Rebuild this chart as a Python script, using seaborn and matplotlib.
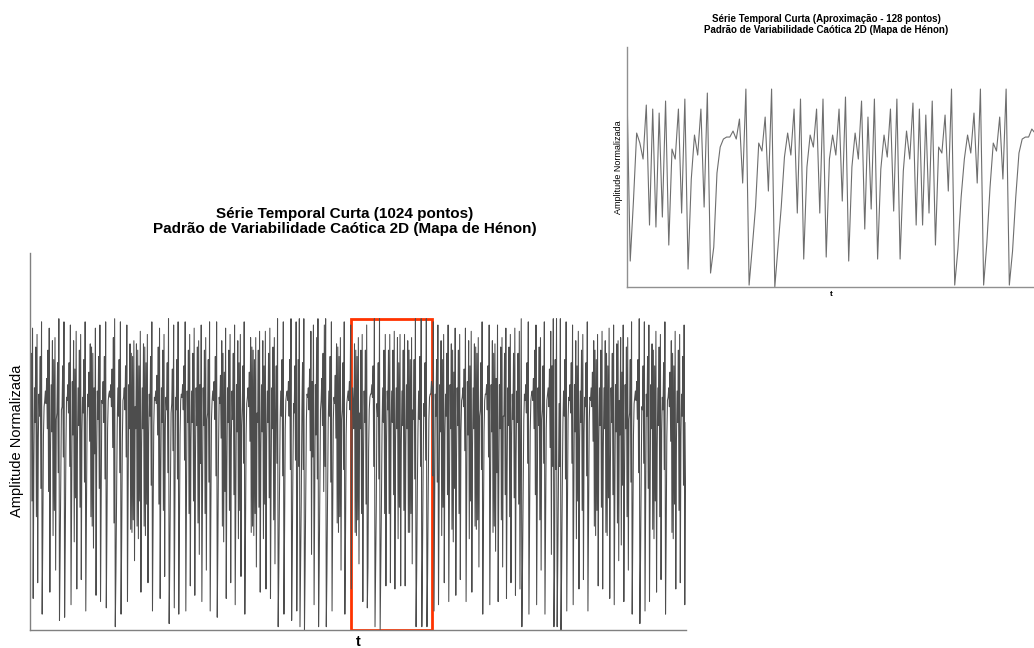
import numpy as np
import pandas as pd
import seaborn as sns
import matplotlib.pyplot as plt
from matplotlib.patches import Rectangle

# Amplitude normalizada (em %): série de 1024 pontos
serie_a = [72, 68, 88, 41, 96, 10, 52, 77, 66, 90, 36, 94, 15, 61, 75, 68, 87, 45, 98, 5,
           30, 62, 71, 73, 76, 72, 80, 64, 89, 44, 96, 12, 57, 78, 63, 92, 30, 86, 38, 93,
           19, 67, 69, 85, 50, 99, 3, 24, 49, 70, 71, 84, 55, 98, 4, 27, 58, 74, 73, 78,
           69, 85, 52, 97, 8, 44, 79, 62, 92, 28, 83, 42, 95, 13, 60, 77, 65, 89, 39, 94,
           16, 63, 74, 69, 86, 47, 98, 6, 36, 66, 75, 71, 82, 60, 91, 36, 90, 33, 88, 26,
           77, 56, 96, 11, 55, 76, 67, 87, 45, 97, 9, 41, 73, 72, 79, 66, 87, 48, 98, 7,
           33, 64, 73, 75, 76, 74, 78, 71, 83, 58, 93, 34, 99, 1, 18, 43, 65, 77, 68, 86,
           50, 98, 5, 29, 60, 73, 74, 77, 70, 84, 55, 97, 9, 45, 78, 64, 91, 32, 88, 31,
           87, 35, 92, 22, 71, 64, 91, 33, 89, 29, 84, 41, 95, 12, 58, 77, 64, 91, 33, 90,
           30, 85, 40, 94, 15, 62, 75, 68, 87, 46, 98, 6, 34, 65, 74, 73, 76, 72, 81, 62,
           90, 40, 96, 10, 50, 77, 66, 89, 38, 94, 17, 64, 74, 70, 85, 50, 99, 2, 22, 46,
           69, 72, 83, 57, 97, 7, 38, 74, 70, 86, 48, 98, 5, 31, 62, 73, 75, 74, 78, 70,
           84, 54, 98, 6, 40, 76, 66, 89]

serie_b = [37, 94, 14, 60, 76, 66, 88, 41, 96, 11, 54, 77, 65, 90, 34, 92, 24, 78, 53, 97,
           9, 42, 77, 65, 89, 37, 93, 19, 67, 69, 86, 47, 98, 6, 35, 67, 73, 76, 73, 79,
           67, 87, 49, 98, 4, 28, 58, 74, 72, 81, 61, 92, 33, 88, 28, 82, 44, 96, 10, 51,
           77, 66, 89, 38, 94, 15, 61, 76, 67, 88, 43, 97, 8, 43, 78, 63, 92, 29, 85, 38,
           94, 17, 65, 71, 84, 53, 98, 5, 30, 62, 72, 74, 77, 71, 82, 60, 93, 31, 90, 33,
           89, 30, 86, 37, 93, 20, 69, 66, 89, 39, 95, 12, 57, 78, 63, 92, 29, 84, 40, 95,
           13, 60, 76, 66, 88, 42, 96, 10, 49, 77, 64, 90, 35, 93, 21, 70, 84, 53, 99, 1,
           19, 44, 66, 76, 68, 86, 49, 98, 5, 32, 64, 73, 75, 76, 73, 79, 68, 86, 51, 99,
           3, 24, 52, 72, 69, 84, 54, 98, 6, 35, 86, 52, 99, 1, 20, 41, 70, 85, 51, 99,
           0, 19, 45, 67, 75, 74, 77, 70, 83, 57, 95, 24, 79, 55, 97, 8, 45, 78, 62, 93,
           48, 99, 1, 20, 46, 70, 73, 80, 65, 88, 44, 97, 52, 99, 1, 18, 43, 66, 76, 68,
           87, 47, 98, 6, 36, 67, 74, 72, 81, 61, 91, 34, 90, 31, 87, 36, 93, 19, 67, 70,
           85, 51, 98, 5, 30, 62, 72, 74, 76, 73, 79, 70]

# trecho ampliado no detalhe (128 pontos, caixa vermelha)
serie_zoom = [97, 13, 43, 77, 72, 64, 91, 31, 89, 30, 87, 35, 93, 21, 69, 64, 89, 37, 94, 9,
              54, 76, 66, 89, 40, 97, 7, 20, 57, 70, 74, 75, 75, 78, 74,
              84, 52, 99, 1, 20, 40, 72, 68, 85, 48, 99, 0, 20, 40, 65, 77, 66, 89, 37, 94,
              14, 60, 76, 70, 89, 37, 94, 15, 64, 76, 66, 89,
              43, 95, 13, 60, 77, 64, 93, 29, 85, 39, 94, 14, 59, 76, 65, 89, 38, 94, 14, 58,
              78, 64, 92, 31, 89, 31, 86, 37, 93, 21, 70, 67,
              86, 48, 99, 1, 19, 45, 64, 76, 67, 87, 52, 99, 1, 22, 50, 72, 68, 85, 54, 99,
              1, 18, 45, 67, 74, 75, 75, 79, 77]

serie_c1 = [49, 98, 6, 38, 75, 68, 86, 47, 97, 8, 44, 78, 63, 92, 30, 86,
            39, 94, 15, 62, 75, 68, 88, 43, 97, 9, 46, 78, 64, 91, 32, 89, 28, 82, 45, 96,
            11, 53, 77, 65, 89, 37, 94, 16, 63, 73, 74, 77, 71, 83, 57, 96, 9, 45, 79, 62,
            92, 29, 84, 41, 95, 12, 58, 77, 64, 91, 33, 90, 32, 88, 35, 93, 20, 68, 70, 85,
            51, 98, 5, 31, 63, 73, 75, 75, 78, 70, 84, 55, 97, 8, 43, 78, 63, 92, 31, 88,
            33, 91, 25, 80, 50, 97, 9, 47, 78, 64, 90, 35, 93, 20, 68, 68, 88, 43, 96, 10,
            50, 77, 65, 90, 36, 94, 15, 62, 75, 67, 88, 42, 96, 11, 55, 76, 66, 88, 40, 95,
            13, 55, 99, 1, 20, 44, 67, 75, 73, 78, 69, 85, 53, 98, 5, 32, 63, 73, 75, 76,
            73, 80, 64, 89, 43, 97, 8, 42, 77, 65, 90, 35, 93, 19, 67, 70, 84, 53, 98, 5,
            33, 64, 73, 75, 77, 71, 83, 58, 95, 24, 84, 52, 99, 1, 19, 86, 51, 99, 1, 22]

serie_c2 = [48, 72, 52, 99, 0, 19, 45, 66, 76, 68, 86, 48, 98, 6, 36, 67, 74, 73, 78, 69,
            85, 53, 97, 8, 44, 78, 63, 92, 29, 84, 41, 95, 13, 60, 76, 66, 89, 38, 94, 16,
            63, 74, 71, 85, 49, 98, 6, 35, 66, 74, 73, 77, 71, 82, 60, 92, 33, 89, 30, 86,
            38, 94, 14, 60, 77, 65, 89, 39, 95, 13, 58, 77, 64, 92, 31, 88, 30, 84, 42, 96,
            10, 51, 77, 66, 88, 43, 97, 8, 44, 78, 63, 91, 34, 92, 22, 73, 62, 93, 27, 82,
            46, 97, 9, 47, 78, 64, 90, 36, 93, 19, 67, 69, 86, 47, 98, 5, 31, 62, 72, 74,
            76, 73, 79, 67, 86, 50, 99, 2, 22, 48, 71, 70, 84, 53, 98, 6, 39, 75, 68, 87,
            45, 97, 9, 46, 78, 64, 91, 32, 89, 29, 84, 41, 95, 12, 58, 77, 65, 90, 36, 94,
            16, 63, 74, 70, 85, 51, 98, 5, 30, 61, 73, 74, 77, 71, 82, 60, 92, 31, 88, 29,
            84, 40, 95, 13, 60, 76, 66, 89, 38, 94, 15, 62, 75, 68, 87, 46, 97, 8, 43, 66]

titulo = "Série Temporal Curta (1024 pontos)\nPadrão de Variabilidade Caótica 2D (Mapa de Hénon)"
titulo_zoom = "Série Temporal Curta (Aproximação - 128 pontos)\nPadrão de Variabilidade Caótica 2D (Mapa de Hénon)"

serie = np.concatenate([serie_a, serie_b, serie_zoom, serie_c1, serie_c2]) / 100.0
assert len(serie) == 1024
inicio_zoom = len(serie_a) + len(serie_b)
n_zoom = len(serie_zoom)

df = pd.DataFrame({"t": np.arange(len(serie)), "amp": serie})
df_zoom = df.iloc[inicio_zoom:inicio_zoom + n_zoom]

sns.set_theme(style="white")
plt.rcParams["font.family"] = ["Liberation Sans", "DejaVu Sans"]
plt.rcParams["text.color"] = "black"
plt.rcParams["axes.labelcolor"] = "black"

fig = plt.figure(figsize=(10.34, 6.48), dpi=100)

# grafico principal
ax = fig.add_axes([0.029, 0.028, 0.6345, 0.582])
sns.lineplot(data=df, x="t", y="amp", ax=ax, color="#4d4d4d", linewidth=0.75)
ax.set_xlim(0, len(serie) - 1)
ax.set_ylim(0, 1.2)
ax.set_xticks([])
ax.set_yticks([])
ax.set_xlabel("t", fontsize=10.5, fontweight="bold", labelpad=4)
ax.set_ylabel("Amplitude Normalizada", fontsize=10.5, labelpad=4)
ax.set_title(titulo, fontsize=11, fontweight="bold", pad=14, linespacing=1.15, x=0.48)
sns.despine(ax=ax)
for s in ["left", "bottom"]:
    ax.spines[s].set_color("#808080")
    ax.spines[s].set_linewidth(1.0)

# caixa do trecho ampliado
caixa = Rectangle((inicio_zoom, df_zoom["amp"].min()), n_zoom - 1,
                  df_zoom["amp"].max() - df_zoom["amp"].min(),
                  fill=False, edgecolor="#ff3300", linewidth=2)
ax.add_patch(caixa)

# detalhe
axz = fig.add_axes([0.6064, 0.557, 0.3946, 0.3704])
sns.lineplot(data=df_zoom, x="t", y="amp", ax=axz, color="#6e6e6e", linewidth=0.8)
axz.set_xlim(inicio_zoom, inicio_zoom + n_zoom - 1)
axz.set_ylim(0, 1.2)
axz.set_xticks([])
axz.set_yticks([])
axz.set_xlabel("t", fontsize=6, fontweight="bold", labelpad=3)
axz.set_ylabel("Amplitude Normalizada", fontsize=6.5, labelpad=3)
axz.set_title(titulo_zoom, fontsize=7, fontweight="bold", pad=10, linespacing=1.15, x=0.488)
sns.despine(ax=axz)
for s in ["left", "bottom"]:
    axz.spines[s].set_color("#909090")
    axz.spines[s].set_linewidth(1.0)

plt.savefig("out.png", dpi=100)
